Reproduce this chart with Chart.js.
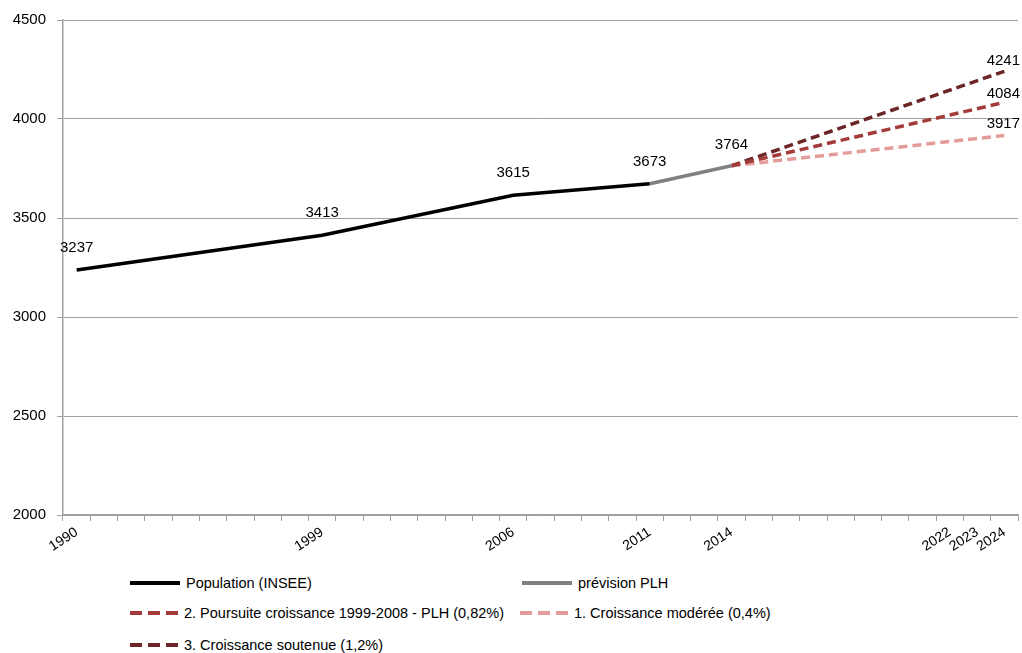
<!DOCTYPE html>
<html>
<head>
<meta charset="utf-8">
<script src="https://cdn.jsdelivr.net/npm/chart.js@4"></script>
<style>
  body { margin: 0; background: #fff; }
  #wrap { position: relative; width: 1022px; height: 653px; }
  #chart { position: absolute; left: 0; top: 0; }
  .legend { position: absolute; font-family: "Liberation Sans", sans-serif; font-size: 14.5px; color: #000; }
  .item { position: absolute; white-space: nowrap; display: flex; align-items: center; }
  .swatch { width: 50px; height: 4px; margin-right: 6px; }
</style>
</head>
<body>
<div id="wrap">
  <canvas id="chart" width="1022" height="555"></canvas>
  <div class="legend" id="legend"></div>
</div>
<script>
// categories: one per year, only some of them get a label
const years = ['1990','1991','1992','1993','1994','1995','1996','1997','1998','1999',
               '2000','2001','2002','2003','2004','2005','2006','2007','2008','2009',
               '2010','2011','2012','2013','2014','2015','2016','2017','2018','2019',
               '2020','2021','2022','2023','2024'];
const shownYears = ['1990','1999','2006','2011','2014','2022','2023','2024'];

const populationYears = ['1990','1999','2006','2011'];
const populationValues = [3237, 3413, 3615, 3673];

const plhYears = ['2011','2014'];
const plhValues = [3673, 3764];

const scenarioYears = ['2014','2024'];
const scenario2Values = [3764, 4084];
const scenario1Values = [3764, 3917];
const scenario3Values = [3764, 4241];

const yTicks = [2000, 2500, 3000, 3500, 4000, 4500];

function toPoints(xs, values) {
    return xs.map(function (x, i) { return { x: x, y: values[i] }; });
}

// draws the value above each point (or only the last one)
const pointLabels = {
    id: 'pointLabels',
    afterDatasetsDraw(chart) {
        const ctx = chart.ctx;
        ctx.save();
        ctx.font = '15px "Liberation Sans", sans-serif';
        ctx.fillStyle = '#000';
        ctx.textAlign = 'center';
        ctx.textBaseline = 'middle';
        chart.data.datasets.forEach(function (ds, i) {
            const meta = chart.getDatasetMeta(i);
            meta.data.forEach(function (pt, j) {
                if (ds.labelLast && j !== meta.data.length - 1) return;
                const txt = String(ds.data[j].y);
                const w = ctx.measureText(txt).width;
                let x = pt.x;
                if (x + w / 2 > chart.width - 2) x = chart.width - 2 - w / 2;
                ctx.fillText(txt, x, pt.y - ds.labelOffset);
            });
        });
        ctx.restore();
    }
};

const datasets = [
    { label: 'Population (INSEE)', data: toPoints(populationYears, populationValues),
      borderColor: '#000000', borderWidth: 3.5, dash: [], labelOffset: 22 },
    { label: 'prévision PLH', data: toPoints(plhYears, plhValues),
      borderColor: '#808080', borderWidth: 3.5, dash: [], labelOffset: 21, labelLast: true },
    { label: '2. Poursuite croissance 1999-2008 - PLH (0,82%)', data: toPoints(scenarioYears, scenario2Values),
      borderColor: '#a33b3b', borderWidth: 3.5, dash: [9, 5], labelOffset: 9, labelLast: true },
    { label: '1. Croissance modérée (0,4%)', data: toPoints(scenarioYears, scenario1Values),
      borderColor: '#e39c9a', borderWidth: 3.5, dash: [9, 5], labelOffset: 12, labelLast: true },
    { label: '3. Croissance soutenue (1,2%)', data: toPoints(scenarioYears, scenario3Values),
      borderColor: '#6d2628', borderWidth: 3.5, dash: [9, 5], labelOffset: 10, labelLast: true }
];
datasets.forEach(function (ds) {
    ds.borderDash = ds.dash;
    ds.pointRadius = 0;
    ds.pointHoverRadius = 0;
    ds.tension = 0;
    ds.fill = false;
    ds.spanGaps = true;
});

const chart = new Chart(document.getElementById('chart'), {
    type: 'line',
    data: { labels: years, datasets: datasets },
    options: {
        responsive: false,
        animation: false,
        layout: { padding: { top: 18, right: 4, left: 0, bottom: 0 } },
        plugins: { legend: { display: false }, tooltip: { enabled: false } },
        scales: {
            x: {
                type: 'category',
                offset: true,
                grid: { offset: true, drawOnChartArea: false, drawTicks: true, tickLength: 6, color: '#a0a0a0' },
                border: { color: '#a0a0a0', width: 1.5 },
                ticks: {
                    autoSkip: false, minRotation: 33, maxRotation: 33, padding: 3,
                    color: '#000', font: { family: '"Liberation Sans", sans-serif', size: 14 },
                    callback: function (v) {
                        const y = this.getLabelForValue(v);
                        return shownYears.indexOf(y) >= 0 ? y : '';
                    }
                },
                afterFit: function (s) { s.height = 40; }
            },
            y: {
                min: 2000, max: 4500,
                afterBuildTicks: function (s) { s.ticks = yTicks.map(function (v) { return { value: v }; }); },
                grid: { color: '#a0a0a0', lineWidth: 1, tickLength: 6 },
                border: { color: '#a0a0a0', width: 1.5 },
                ticks: {
                    padding: 11, color: '#000', font: { family: '"Liberation Sans", sans-serif', size: 15 },
                    callback: function (v) { return String(v); }
                },
                afterFit: function (s) { s.width = 63; }
            }
        }
    },
    plugins: [pointLabels]
});

// legend laid out in two columns like the original
const legendPos = [
    [130, 583], [522, 583],
    [130, 613], [520, 613],
    [130, 645]
];
const legend = document.getElementById('legend');
datasets.forEach(function (ds, i) {
    const item = document.createElement('div');
    item.className = 'item';
    item.style.left = legendPos[i][0] + 'px';
    item.style.top = (legendPos[i][1] - 10) + 'px';
    item.style.height = '20px';
    const sw = document.createElement('span');
    sw.className = 'swatch';
    if (ds.dash.length) {
        sw.style.background = 'repeating-linear-gradient(90deg,' + ds.borderColor + ' 0 12px, transparent 12px 18px)';
        sw.style.width = '48px';
    } else {
        sw.style.background = ds.borderColor;
    }
    const txt = document.createElement('span');
    txt.textContent = ds.label;
    item.appendChild(sw);
    item.appendChild(txt);
    legend.appendChild(item);
});
</script>
</body>
</html>
